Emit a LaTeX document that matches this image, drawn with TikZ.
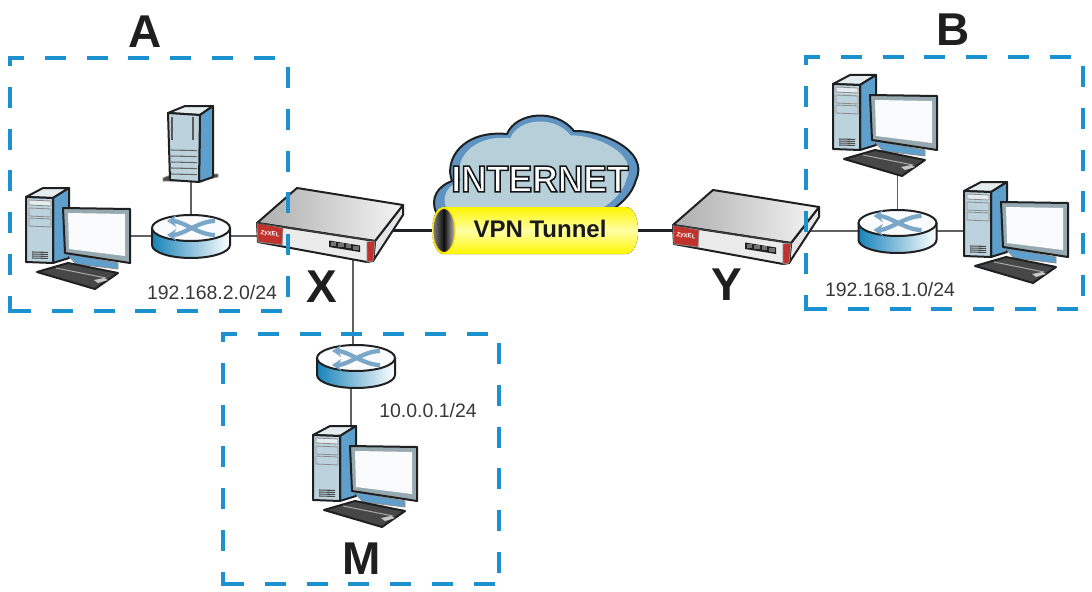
\documentclass[tikz,border=0pt]{standalone}
\usepackage{fontspec}
\setmainfont{Liberation Sans}
\usetikzlibrary{arrows.meta,calc}
\definecolor{boxblue}{HTML}{1B92CF}
\definecolor{devblue}{HTML}{5F9FCC}
\definecolor{devpale}{HTML}{BCD3DE}
\definecolor{devtop}{HTML}{E4ECF0}
\definecolor{outl}{HTML}{1E2022}
\definecolor{crossblue}{HTML}{7AA6C8}
\definecolor{cloudring}{HTML}{5E93C2}
\definecolor{cloudfill}{HTML}{B7CFD9}
\definecolor{fwred}{HTML}{C0322B}
\newcommand{\bigfont}{\fontsize{34.5}{36}\selectfont\bfseries}
\newcommand{\ipfont}{\fontsize{14.6}{16}\selectfont}
\newcommand{\cloudshape}{(436,212) .. controls (430,198) and (438,186) .. (452,181)
 .. controls (444,160) and (462,130) .. (507,134)
 .. controls (516,112) and (556,108) .. (574,131)
 .. controls (600,130) and (650,150) .. (636,180)
 .. controls (632,195) and (620,205) .. (606,214) -- cycle}
\newcommand{\zonerect}[4]{%
 \draw[zone,dash phase=3.75pt,shorten <=-1.5pt] (#1,#2) -- (#3,#2);
 \draw[zone,dash phase=9.75pt,shorten >=-1.5pt] (#1,#2) -- (#1,#4);
 \draw[zone,dash phase=0pt] (#1,#4) -- (#3,#4);
 \draw[zone,dash phase=24.6pt] (#3,#2) -- (#3,#4);
}
\tikzset{
 devbox/.style={inner sep=0pt,outer sep=0pt,minimum width=#1},
 pcbox/.style={devbox=78pt,minimum height=75.75pt},
 srvbox/.style={devbox=41pt,minimum height=57pt},
 rtbox/.style={devbox=58.5pt,minimum height=32.25pt},
 fwbox/.style={devbox=109.5pt,minimum height=55.5pt},
 tunbox/.style={devbox=153.75pt,minimum height=35.25pt},
 thinlink/.style={draw=black!62,line width=1pt},
 thicklink/.style={draw=outl,line width=2.4pt},
 zone/.style={draw=boxblue,line width=3pt,dash pattern=on 15.75pt off 15.6pt},
 ol/.style={draw=outl,line width=1.5pt,line join=round},
 ol2/.style={draw=black!45,line width=.6pt,line join=round},
 bigtext/.style={inner sep=0pt,font=\bigfont,text=black!88},
 iptext/.style={inner sep=0pt,font=\ipfont,text=black!78},
 pc/.pic={
  \fill[devtop,ol] (0,9) -- (17,0) -- (43,0) -- (27,10) -- cycle;
  \fill[devblue,ol] (27,10) -- (43,0) -- (43,70) -- (27,75) -- cycle;
  \fill[devpale,ol] (0,9) -- (27,10) -- (27,75) -- (0,74) -- cycle;
  \fill[devtop,ol2] (3,12) -- (25,13) -- (25,18) -- (3,17) -- cycle;
  \fill[devpale,ol2] (3,20) -- (25,21) -- (25,29) -- (3,28) -- cycle;
  \fill[devpale,ol2] (3,30) -- (25,31) -- (25,39) -- (3,38) -- cycle;
  \foreach \v in {64,66,68,70}{\draw[black!70,line width=.8pt] (6,\v) -- (22,\v+.4);}
  \fill[devblue,ol2] (41,66) -- (92,75) -- (92,81) -- (50,76) -- cycle;
  \fill[black!72,ol] (11,84) -- (42,75) -- (92,85) -- (69,101) -- cycle;
  \draw[black!35,line width=.8pt] (30,80) -- (80,90);
  \fill[black!22] (68,92) -- (78,90) -- (82,92) -- (72,95) -- cycle;
  \fill[devpale!80!black,ol] (37,20) -- (104,21) -- (104,75) -- (39,65) -- cycle;
  \fill[white!92!devpale] (42,25) -- (99,26) -- (99,68) -- (43,61) -- cycle;
 },
 server/.pic={
  \fill[black!70,ol2] (-5,72) -- (0,70) -- (50,68) -- (50,71) -- (31,75) -- (-5,75) -- cycle;
  \fill[devtop,ol] (0,7) -- (17,0) -- (45,0) -- (32,9) -- cycle;
  \fill[devblue,ol] (32,9) -- (45,0) -- (45,71) -- (31,76) -- cycle;
  \fill[devpale,ol] (0,7) -- (32,9) -- (31,76) -- (2,74) -- cycle;
  \draw[black!65,line width=1.5pt] (4,11) -- (4,34) (25,11) -- (25,34);
  \foreach \v in {44,50,56,62,68}{\draw[black!60,line width=.8pt] (3,\v) -- (29,\v+.6);}
 },
 router/.pic={
  \fill[left color=boxblue!90!black,right color=white,ol] (-39,0) -- (-39,17) arc[start angle=180,end angle=0,x radius=39,y radius=13] -- (39,0) -- cycle;
  \fill[white!92!devpale,ol] (0,0) ellipse[x radius=39,y radius=13];
  \draw[crossblue,line width=3.2pt,-{Stealth[length=7pt,width=9pt]},{Stealth[length=7pt,width=9pt]}-]
    (-24,-7) .. controls (-8,-7) and (8,7) .. (24,7);
  \draw[crossblue,line width=3.2pt,-{Stealth[length=7pt,width=9pt]},{Stealth[length=7pt,width=9pt]}-]
    (-24,7) .. controls (-8,7) and (8,-7) .. (24,-7);
 },
 firewall/.pic={
  \fill[black!10,ol] (116,73) -- (118,53) -- (146,17) -- (146,27) -- cycle;
  \fill[left color=black!32,right color=black!4,ol] (0,35) -- (40,0) -- (146,17) -- (118,53) -- cycle;
  \fill[black!8,ol] (0,35) -- (118,53) -- (116,73) -- (110,74) -- (1,54) -- cycle;
  \fill[fwred,ol2] (0,35) -- (26,40) -- (25,57) -- (1,54) -- cycle;
  \fill[fwred,ol2] (110,54) -- (118,53) -- (116,73) -- (110,74) -- cycle;
  \fill[outl] (72,52.5) -- (103,57.5) -- (103,64) -- (72,59) -- cycle;
  \foreach \u in {73.5,81,88.5,96}{\fill[black!55] (\u,{54+.16*(\u-73)}) rectangle (\u+5.5,{58+.16*(\u-73)});}
  \draw[black!75,line width=.8pt] (0,35) -- (118,53);
  \node[inner sep=0pt,text=white,font=\fontsize{4.6}{5}\selectfont\bfseries,rotate=-8] (logo) at (13,46) {ZyXEL};
 }
}
\begin{document}
\begin{tikzpicture}[x=.75pt,y=-.75pt]
\useasboundingbox (0,0) rectangle (1092,592);
% anchor nodes of the devices
\node[pcbox]  (pcA)  at (78,238.5) {};
\node[srvbox] (srvA) at (190,144) {};
\node[rtbox]  (rtA)  at (191,236) {};
\node[fwbox]  (fwX)  at (330,225) {};
\node[fwbox]  (fwY)  at (746,227) {};
\node[tunbox] (tun)  at (534.5,230.5) {};
\node[rtbox]  (rtM)  at (356,366) {};
\node[pcbox]  (pcM)  at (365,476.5) {};
\node[pcbox]  (pcB)  at (885,125.5) {};
\node[rtbox]  (rtB)  at (897.5,231) {};
\node[pcbox]  (pcC)  at (1016,232.5) {};
% connectors
\draw[thinlink] (rtA.center) -- (rtA.center -| pcA.center);
\draw[thinlink] (rtA.center) -- (rtA.center -| fwX.center);
\draw[thinlink] (rtA.center) -- (rtA.center |- srvA.center);
\draw[thinlink] ([xshift=-2.25pt]rtM.center) -- ([xshift=-2.25pt]rtM.center |- fwX.center);
\draw[thinlink] ([xshift=-3.75pt]rtM.center) -- ([xshift=-3.75pt]rtM.center |- pcM.center);
\draw[thinlink] (rtB.center) -- (rtB.center |- pcB.center);
\draw[thinlink] (rtB.center) -- (rtB.center -| fwY.center);
\draw[thinlink] (rtB.center) -- (rtB.center -| pcC.center);
\draw[thicklink] (tun.center) -- (tun.center -| fwX.center);
\draw[thicklink] (tun.center) -- (tun.center -| fwY.center);
% devices
\pic at (26,188) {pc};
\pic at (168,106) {server};
\pic at (191,228) {router};
\pic at (257,188) {firewall};
\pic at (673,190) {firewall};
\pic at (356,358) {router};
\pic at (313,426) {pc};
\pic at (833,75) {pc};
\pic at (897.5,223) {router};
\pic at (964,182) {pc};
% cloud
\fill[cloudring,ol] \cloudshape;
\begin{scope}[shift={(540,175)},scale=.9,shift={(-540,-175)}]
\fill[cloudfill] \cloudshape;
\end{scope}
\node[inner sep=0pt,text=white,xscale=.95] (inet) at (540,179) {\special{pdf:code q 2 Tr 1.2 w 0.08 0.09 0.1 RG}\fontsize{28}{30}\selectfont\bfseries INTERNET\special{pdf:code Q 0 Tr}};
% tunnel
\fill[top color=yellow!92!orange,bottom color=yellow!92!orange,middle color=yellow!35] (443,207) -- (625,207) .. controls (634,207) and (638,218) .. (638,230.5) .. controls (638,243) and (634,254) .. (625,254) -- (443,254) arc[start angle=90,end angle=270,x radius=11,y radius=23.5] -- cycle;
\fill[left color=black!50,right color=black!25,middle color=black!95,draw=yellow!80!orange,line width=.8pt] (444,230.5) ellipse[x radius=11,y radius=22];
\node[inner sep=0pt,font=\fontsize{18}{20}\selectfont\bfseries,text=black!90] (vpn) at (540,229) {VPN Tunnel};
% zones
\zonerect{10}{58}{288}{311}
\zonerect{806}{57}{1083}{309}
\zonerect{223}{334}{499}{584}
% labels
\node[bigtext] (la) at (145,32) {A};
\node[bigtext] (lb) at (953,30) {B};
\node[bigtext] (lx) at (322,287) {X};
\node[bigtext] (ly) at (727,285) {Y};
\node[bigtext] (lm) at (362,559) {M};
\node[iptext] (ipa) at (212,293) {192.168.2.0/24};
\node[iptext] (ipb) at (890,290) {192.168.1.0/24};
\node[iptext] (ipm) at (428,411) {10.0.0.1/24};
\end{tikzpicture}
\end{document}
